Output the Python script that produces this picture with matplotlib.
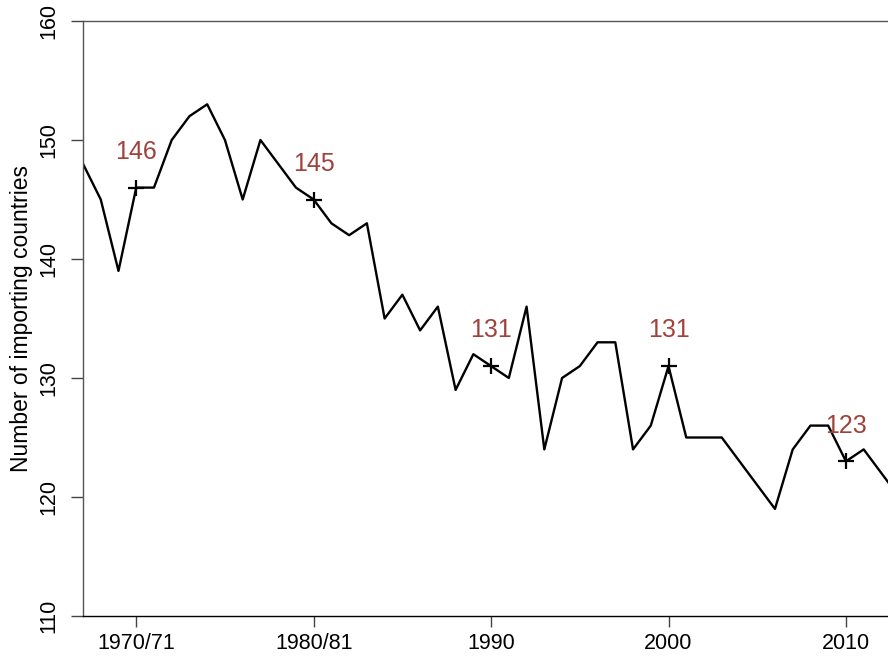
import matplotlib
matplotlib.use('Agg')
import matplotlib.pyplot as plt
from matplotlib import font_manager

plt.rcParams['font.family'] = ['Liberation Sans', 'DejaVu Sans']

# 年份与进口国家数量
years = list(range(1967, 2014))
countries = [148, 145, 139, 146, 146, 150, 152, 153, 150, 145,
             150, 148, 146, 145, 143, 142, 143, 135, 137, 134,
             136, 129, 132, 131, 130, 136, 124, 130, 131, 133,
             133, 124, 126, 131, 125, 125, 125, 123, 121, 119,
             124, 126, 126, 123, 124, 122, 120]

# 标注年份
mark_years = [1970, 1980, 1990, 2000, 2010]
mark_values = [146, 145, 131, 131, 123]

tick_pos = [1970, 1980, 1990, 2000, 2010]
tick_labels = ['1970/71', '1980/81', '1990', '2000', '2010']
y_ticks = [110, 120, 130, 140, 150, 160]

fig = plt.figure(figsize=(8.88, 6.56), dpi=100)
ax = fig.add_axes([83 / 888, 1 - 616 / 656, 1 - 83 / 888, (616 - 21) / 656])

ax.plot(years, countries, color='black', linewidth=1.7)
ax.plot(mark_years, mark_values, linestyle='none', marker='+', color='black',
        markersize=11, markeredgewidth=1.6)
for x, v in zip(mark_years, mark_values):
    ax.text(x, v + 3, str(v), color='#A0413C', fontsize=18, ha='center', va='center')

ax.set_xlim(1967.0, 2012.37)
ax.set_ylim(110, 160)

ax.set_xticks(tick_pos)
ax.set_xticklabels(tick_labels, fontsize=15.5)
ax.set_yticks(y_ticks)

narrow = [f.name for f in font_manager.fontManager.ttflist if f.name == 'Liberation Sans Narrow']
yfam = ['Liberation Sans Narrow', 'Liberation Sans'] if narrow else ['Liberation Sans']
ax.set_yticklabels([str(t) for t in y_ticks], rotation=90, va='center',
                   fontsize=15.5, family=yfam)

ax.tick_params(axis='x', length=8, width=1, color='#444444', pad=4)
ax.tick_params(axis='y', length=9, width=1, color='#444444', pad=8)

ax.spines['right'].set_visible(False)
for s in ['left', 'bottom', 'top']:
    ax.spines[s].set_linewidth(1)
ax.spines['left'].set_color('#555555')
ax.spines['top'].set_color('#555555')
ax.spines['bottom'].set_color('black')

ax.set_ylabel('Number of importing countries', fontsize=16.5, labelpad=4)

fig.savefig('out.png', dpi=100)
